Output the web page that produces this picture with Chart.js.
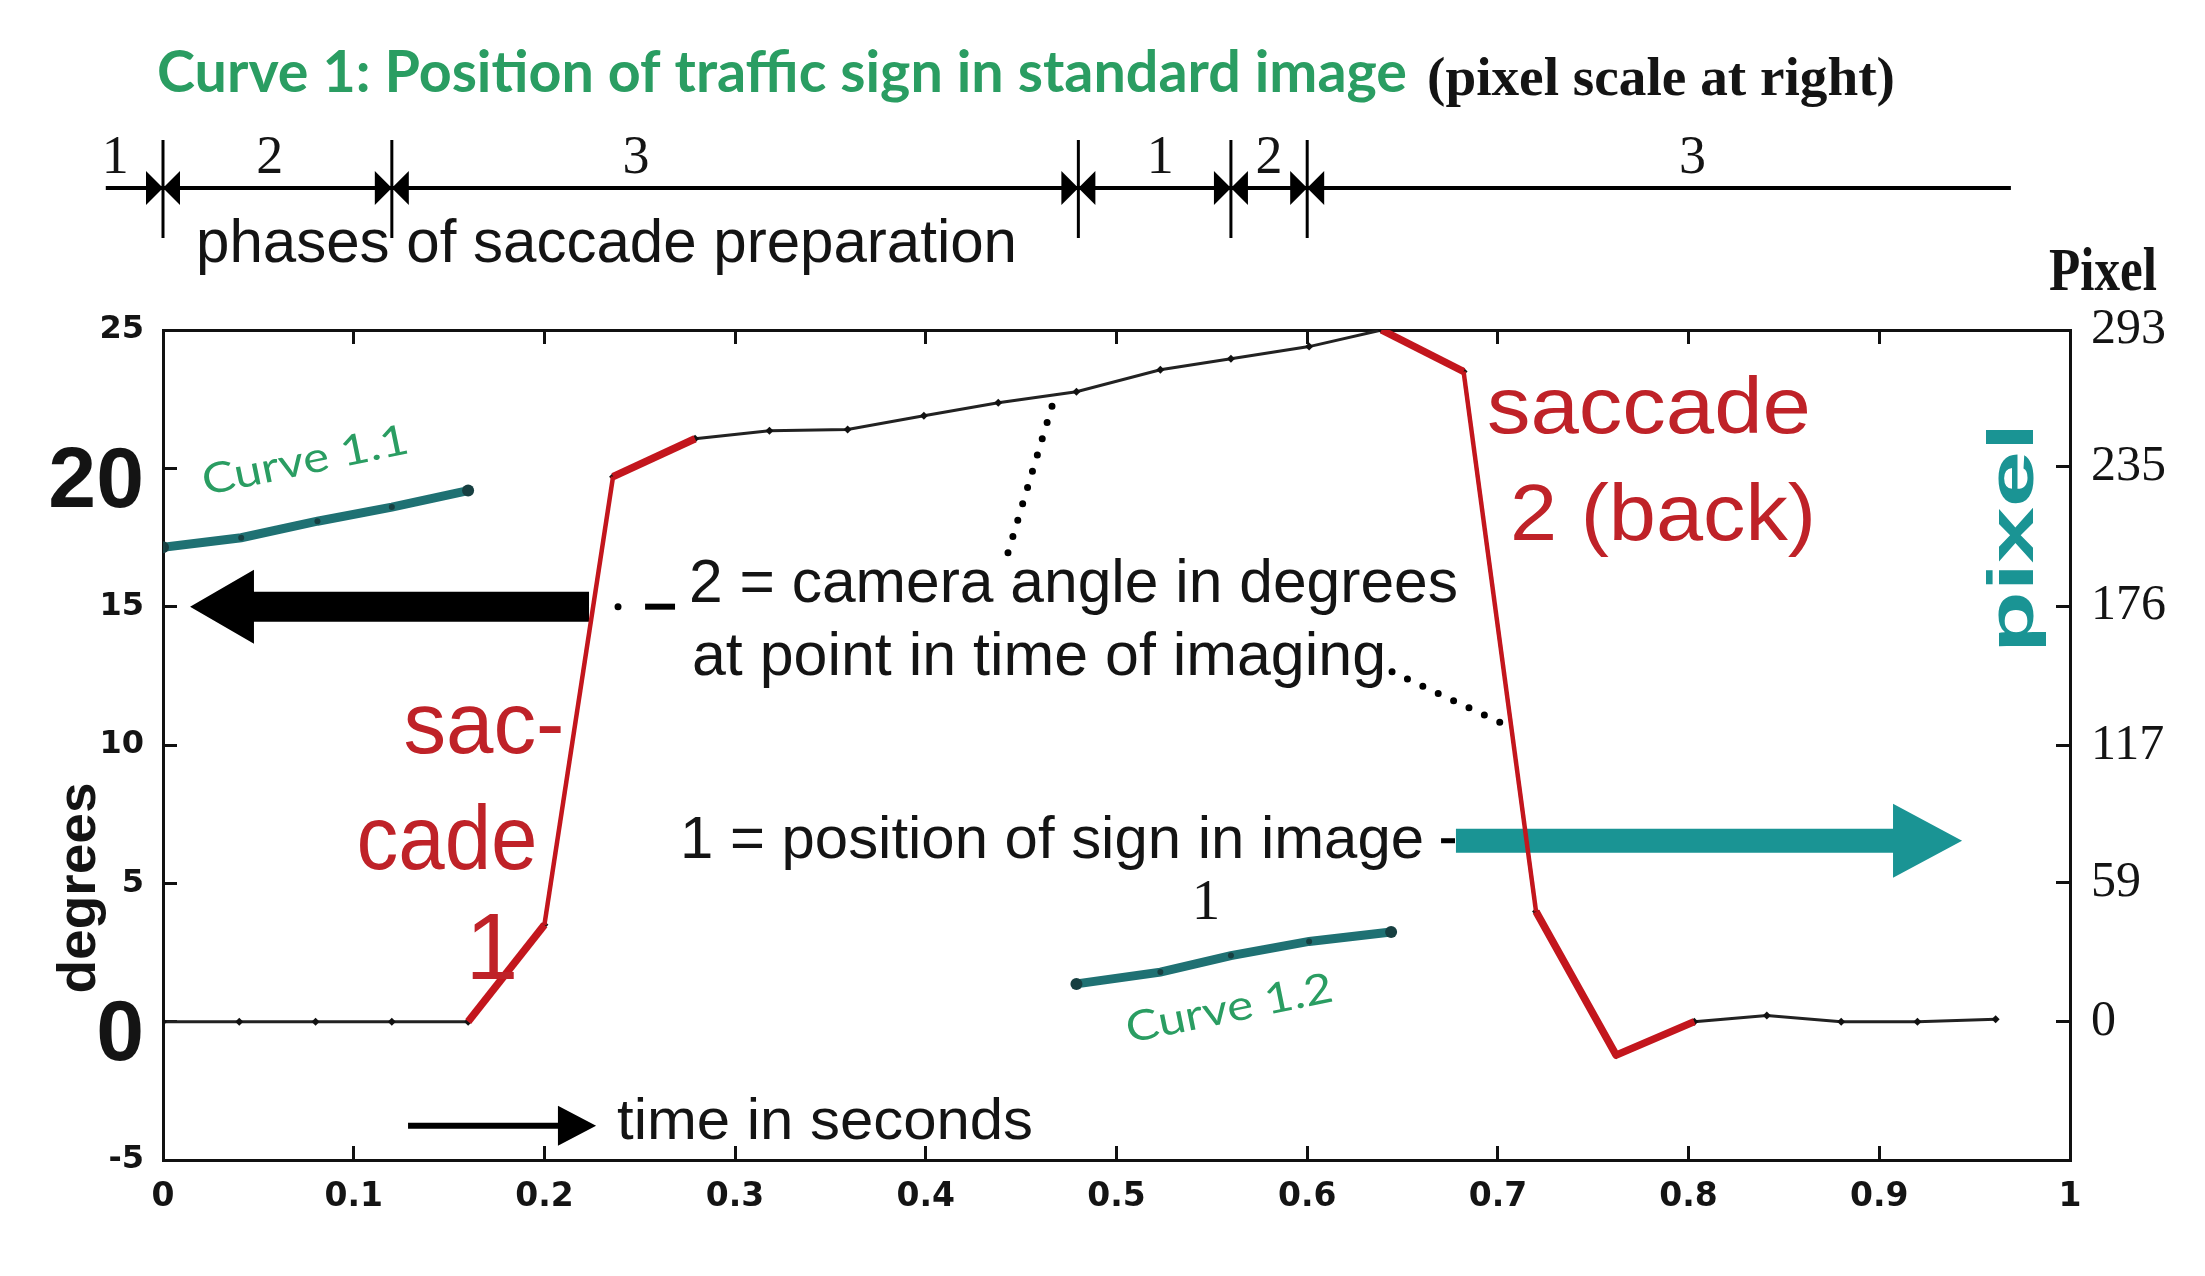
<!DOCTYPE html>
<html><head><meta charset="utf-8">
<script src="https://cdn.jsdelivr.net/npm/chart.js@4.4.1/dist/chart.umd.min.js"></script>
<style>html,body{margin:0;padding:0;background:#fff;overflow:hidden}#wrap{width:2205px;height:1276px;position:relative}</style>
</head><body><div id="wrap"><canvas id="c" width="2205" height="1276"></canvas></div>
<script>
// ---- data ----
const cameraTime  = [0,0.04,0.08,0.12,0.16,0.2,0.236,0.279,0.318,0.359,0.399,0.438,0.479,0.523,0.56,0.601,0.639,0.682,0.72,0.762,0.803,0.841,0.88,0.92,0.961];
const cameraAngle = [0,0,0,0,0,3.5,19.7,21.07,21.36,21.4,21.9,22.37,22.77,23.56,23.96,24.4,25.0,23.5,3.98,-1.21,0,0.22,0,0,0.09];
const saccade1Time  = [0.16,0.2,0.236,0.279];
const saccade1Angle = [0,3.5,19.7,21.07];
const saccade2Time  = [0.639,0.682,0.72,0.762,0.803];
const saccade2Angle = [25.0,23.5,3.98,-1.21,0];
const curve11Time  = [0,0.041,0.081,0.12,0.16];
const curve11Pixel = [201,205,212,218,225];
const curve12Time  = [0.479,0.523,0.56,0.601,0.644];
const curve12Pixel = [16,21,28,34,38];
const timeTicks   = [0,0.1,0.2,0.3,0.4,0.5,0.6,0.7,0.8,0.9,1];
const degreeTicks = [-5,0,5,10,15,20,25];
const pixelTicks  = [0,59,117,176,235,293];
const pixelsPerDegree = 293/25;
const phaseBounds = [0,0.12,0.48,0.56,0.60];
const phaseLabels = ['1','2','3','1','2','3'];
const phaseLabelTimes = [-0.025,0.056,0.248,0.523,0.58,0.802];

const pts = (xs, ys) => xs.map((x,i)=>({x, y: ys[i]}));

const RED = '#c3161d', TEAL_C = '#1f7173', TEAL_A = '#1a9494', INK = '#141414';
const SANS = '"Liberation Sans", Arial, sans-serif', SERIF = '"Liberation Serif", "Times New Roman", serif';
const WIDE = '"DejaVu Sans", Verdana, sans-serif';

function txt(ctx, s, x, y, o){
  ctx.save();
  ctx.font = (o.weight||'normal') + ' ' + o.size + 'px ' + (o.family||SANS);
  const m = ctx.measureText(s).width;
  const sx = o.width ? o.width/m : 1;
  ctx.translate(x, y);
  if (o.angle) ctx.rotate(o.angle);
  ctx.scale(sx, 1);
  ctx.textAlign = o.align || 'left';
  ctx.textBaseline = o.baseline || 'alphabetic';
  ctx.fillStyle = o.color || INK;
  ctx.fillText(s, 0, 0);
  ctx.restore();
}
function arrow(ctx, x0, x1, xt, y, shaftHalf, headHalf, color){
  ctx.save(); ctx.fillStyle = color; ctx.beginPath();
  ctx.moveTo(x0, y - shaftHalf); ctx.lineTo(x1, y - shaftHalf); ctx.lineTo(x1, y - headHalf);
  ctx.lineTo(xt, y); ctx.lineTo(x1, y + headHalf); ctx.lineTo(x1, y + shaftHalf); ctx.lineTo(x0, y + shaftHalf);
  ctx.closePath(); ctx.fill(); ctx.restore();
}

const annot = {
  id: 'annot',
  beforeDraw(chart){
    const c = chart.ctx; c.save(); c.fillStyle = '#fff'; c.fillRect(0,0,chart.width,chart.height); c.restore();
  },
  beforeDatasetsDraw(chart){
    const c = chart.ctx, X = chart.scales.x, Y = chart.scales.y;
    const px = v => X.getPixelForValue(v), py = v => Y.getPixelForValue(v);
    arrow(c, px(0.2234), px(0.0477), px(0.0142), py(15), 15, 37, '#000');
    c.save(); c.fillStyle = '#000';
    c.beginPath(); c.arc(px(0.2386), py(15), 3.5, 0, Math.PI*2); c.fill();
    c.fillRect(px(0.2528), py(15)-3, px(0.2685)-px(0.2528), 6);
    c.fillRect(px(0.6702), py(6.54)-2.5, px(0.6775)-px(0.6702), 5);
    c.restore();
    arrow(c, px(0.678), px(0.9072), px(0.9434), py(6.54), 12, 37, TEAL_A);
    arrow(c, px(0.1285), px(0.2071), px(0.2271), py(-3.76), 3, 20, '#000');
  },
  afterDatasetsDraw(chart){
    const c = chart.ctx, X = chart.scales.x, Y = chart.scales.y;
    const px = v => X.getPixelForValue(v), py = v => Y.getPixelForValue(v);
    c.save(); c.strokeStyle = '#000'; c.lineWidth = 7; c.lineCap = 'round'; c.setLineDash([0, 17]);
    c.beginPath(); c.moveTo(px(0.4431), py(16.95)); c.lineTo(px(0.4672), py(22.48)); c.stroke();
    c.beginPath(); c.moveTo(px(0.6445), py(12.65)); c.lineTo(px(0.7037), py(10.73)); c.stroke();
    c.restore();

    txt(c, 'Curve 1: Position of traffic sign in standard image', 157, 92, {size:58, weight:'bold', family:'Lato, "Open Sans", sans-serif', width:1250, color:'#2a9d62'});
    txt(c, '(pixel scale at right)', 1427, 95, {size:54, weight:'bold', family:SERIF, width:468});

    const by = 188;
    c.save(); c.strokeStyle = '#000'; c.fillStyle = '#000'; c.lineWidth = 4;
    c.beginPath(); c.moveTo(px(-0.03), by); c.lineTo(px(0.969), by); c.stroke();
    c.lineWidth = 3;
    phaseBounds.forEach(t => {
      const x = px(t);
      c.beginPath(); c.moveTo(x, 140); c.lineTo(x, 238); c.stroke();
      c.beginPath(); c.moveTo(x-17, by-17); c.lineTo(x, by); c.lineTo(x-17, by+17); c.closePath(); c.fill();
      c.beginPath(); c.moveTo(x+17, by-17); c.lineTo(x, by); c.lineTo(x+17, by+17); c.closePath(); c.fill();
    });
    c.restore();
    phaseLabels.forEach((s,i) => txt(c, s, px(phaseLabelTimes[i]), 173, {size:54, family:SERIF, align:'center'}));
    txt(c, 'phases of saccade preparation', 196, 262, {size:62, width:821});

    txt(c, 'Pixel', 2103, 290, {size:62, weight:'bold', family:SERIF, width:108, align:'center'});

    txt(c, '2 = camera angle in degrees', 689, 602, {size:61, width:769});
    txt(c, 'at point in time of imaging', 692, 675, {size:61, width:694});
    txt(c, '1 = position of sign in image', 680, 858, {size:59, width:744});
    txt(c, '1', 1206, 919, {size:57, family:SERIF, align:'center'});
    txt(c, 'time in seconds', 617, 1139, {size:57, width:416});

    txt(c, 'Curve 1.1', 308, 474, {size:42, family:'Lato, "Open Sans", sans-serif', width:210, align:'center', angle:-11.7*Math.PI/180, color:'#2a9d62'});
    txt(c, 'Curve 1.2', 1232, 1022, {size:42, family:'Lato, "Open Sans", sans-serif', width:210, align:'center', angle:-11.5*Math.PI/180, color:'#2a9d62'});

    const RT = '#bf2228';
    txt(c, 'sac-', 484, 753, {size:88, width:161, align:'center', color:RT});
    txt(c, 'cade', 447, 869, {size:90, width:181, align:'center', color:RT});
    txt(c, '1', 492, 979, {size:95, align:'center', color:RT});
    txt(c, 'saccade', 1649, 433, {size:80, width:324, align:'center', color:RT});
    txt(c, '2 (back)', 1663, 540, {size:80, width:306, align:'center', color:RT});

    txt(c, 'pixel', 2033, 538, {size:64, weight:'bold', width:230, align:'center', angle:-Math.PI/2, color:TEAL_A});
    txt(c, 'degrees', 95, 888, {size:54, weight:'bold', width:211, align:'center', angle:-Math.PI/2, color:INK});
  }
};

const axisBorder = {display:true, color:'#111', width:3};
const axisGrid = {drawOnChartArea:false, drawTicks:true, tickLength:-14, tickWidth:3, tickColor:'#111', color:'#111'};

new Chart(document.getElementById('c'), {
  type: 'line',
  data: { datasets: [
    { label:'saccade 1', data: pts(saccade1Time, saccade1Angle), xAxisID:'x', yAxisID:'y',
      borderColor: RED, borderWidth: 7, pointRadius: 0, borderJoinStyle:'round',
      segment: { borderWidth: ctx => Math.abs(ctx.p1.y-ctx.p0.y) > 2*Math.abs(ctx.p1.x-ctx.p0.x) ? 4.5 : 7.5 } },
    { label:'saccade 2', data: pts(saccade2Time, saccade2Angle), xAxisID:'x', yAxisID:'y',
      borderColor: RED, borderWidth: 7, pointRadius: 0, borderJoinStyle:'round',
      segment: { borderWidth: ctx => Math.abs(ctx.p1.y-ctx.p0.y) > 2*Math.abs(ctx.p1.x-ctx.p0.x) ? 4.5 : 7.5 } },
    { label:'camera angle', data: pts(cameraTime, cameraAngle), xAxisID:'x', yAxisID:'y',
      borderColor:'#222', borderWidth:3, pointRadius:4, pointStyle:'rectRot',
      pointBackgroundColor:'#111', pointBorderColor:'#111', pointBorderWidth:0 },
    { label:'Curve 1.1', data: pts(curve11Time, curve11Pixel), xAxisID:'x', yAxisID:'y2',
      borderColor: TEAL_C, borderWidth: 9, borderCapStyle:'round',
      pointRadius: ctx => (ctx.dataIndex===0 || ctx.dataIndex===curve11Time.length-1) ? 6 : 3,
      pointBackgroundColor:'#173f41', pointBorderWidth:0 },
    { label:'Curve 1.2', data: pts(curve12Time, curve12Pixel), xAxisID:'x', yAxisID:'y2',
      borderColor: TEAL_C, borderWidth: 9, borderCapStyle:'round',
      pointRadius: ctx => (ctx.dataIndex===0 || ctx.dataIndex===curve12Time.length-1) ? 6 : 3,
      pointBackgroundColor:'#173f41', pointBorderWidth:0 }
  ]},
  options: {
    responsive:false, animation:false, devicePixelRatio:1,
    layout:{ padding:{ top:330, left:0, right:0, bottom:0 } },
    plugins:{ legend:{display:false}, tooltip:{enabled:false}, title:{display:false} },
    elements:{ line:{ tension:0 } },
    scales:{
      x:{ type:'linear', position:'bottom', min:0, max:1,
        afterBuildTicks: s => { s.ticks = timeTicks.map(v=>({value:v})); },
        afterFit: s => { s.height = 116; },
        border: axisBorder, grid: axisGrid,
        ticks:{ padding:32, color:INK, maxRotation:0, autoSkip:false,
          font:{ family:WIDE, size:33, weight:'bold' },
          callback: v => String(Math.round(v*10)/10) } },
      x2:{ type:'linear', position:'top', min:0, max:1,
        afterBuildTicks: s => { s.ticks = timeTicks.map(v=>({value:v})); },
        afterFit: s => { s.height = 0; },
        border: axisBorder, grid: axisGrid, ticks:{ display:false } },
      y:{ type:'linear', position:'left', min:-5, max:25,
        afterBuildTicks: s => { s.ticks = degreeTicks.map(v=>({value:v})); },
        afterFit: s => { s.width = 163; },
        border: axisBorder, grid: axisGrid,
        ticks:{ padding:33, color:INK, autoSkip:false,
          font: ctx => (ctx.tick && (ctx.tick.value===20 || ctx.tick.value===0))
            ? { family:SANS, size:86, weight:'bold', lineHeight:0.35 }
            : { family:WIDE, size:32, weight:'bold' },
          callback: v => (v===20 || v===0) ? ['', String(v)] : String(v) } },
      y2:{ type:'linear', position:'right', min:-5*pixelsPerDegree, max:25*pixelsPerDegree,
        afterBuildTicks: s => { s.ticks = pixelTicks.map(v=>({value:v})); },
        afterFit: s => { s.width = 135; },
        border: axisBorder, grid: axisGrid,
        ticks:{ padding:35, color:INK, autoSkip:false,
          font:{ family:SERIF, size:50 },
          callback: v => String(v) } }
    }
  },
  plugins:[annot]
});
</script></body></html>
